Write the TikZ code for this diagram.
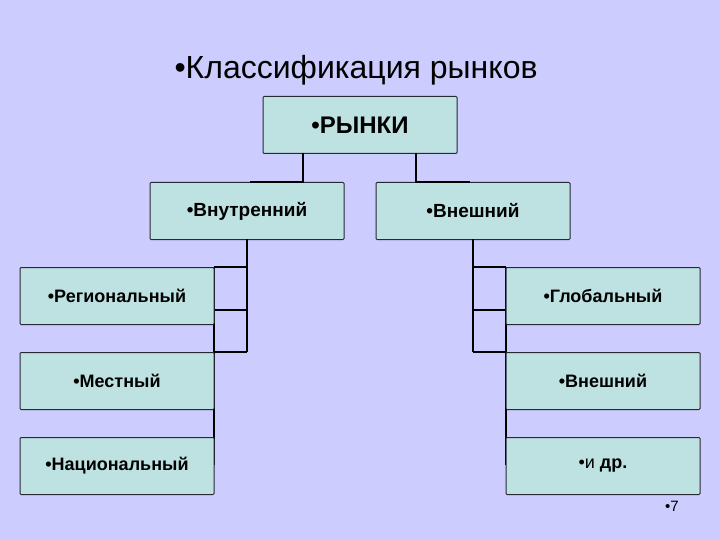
\documentclass[tikz,border=0pt]{standalone}
\usepackage{fontspec}
\setmainfont{Liberation Sans}
\definecolor{bg}{RGB}{204,204,255}
\definecolor{boxfill}{RGB}{190,226,226}
\definecolor{boxline}{RGB}{40,40,50}
\begin{document}
\begin{tikzpicture}[x=1pt,y=-1pt,
  box/.style={draw=boxline,line width=1pt,fill=boxfill,minimum width=194pt,minimum height=57pt,inner sep=0pt,rounded corners=1pt},
  leaf/.style={box,font=\fontsize{18}{21}\selectfont\bfseries},
  mid/.style={box,font=\fontsize{19}{22}\selectfont\bfseries},
  conn/.style={draw=black,line width=2pt}]
\fill[bg] (0,0) rectangle (720,540);
\useasboundingbox (0,0) rectangle (720,540);
\node[anchor=base] (title) at (356,79) {\fontsize{32}{35}\selectfont •Классификация рынков};
% nodes
\node[box,font=\fontsize{24}{28}\selectfont\bfseries] (root) at (360,125) {•РЫНКИ};
\node[mid] (vn) at (247,211) {•Внутренний};
\node[mid] (ex) at (473,211) {•Внешний};
\coordinate (rt1) at (303,153);
\coordinate (rt2) at (416,153);
% connectors from root
\draw[conn] (rt1) -- (303,182) -- (250,182);
\draw[conn] (rt2) -- (416,182) -- (470,182);
% left branch
\coordinate (L0) at (247,239);
\coordinate (L1) at (247,267);
\coordinate (L2) at (247,310);
\coordinate (L3) at (247,352);
\draw[conn] (L0) -- (L3);
\draw[conn] (L1) -- (214,267);
\draw[conn] (L2) -- (214,310);
\draw[conn] (L3) -- (214,352);
\draw[conn] (214,267) -- (214,465);
% right branch
\coordinate (R0) at (473,239);
\coordinate (R1) at (473,267);
\coordinate (R2) at (473,310);
\coordinate (R3) at (473,352);
\draw[conn] (R0) -- (R3);
\draw[conn] (R1) -- (506,267);
\draw[conn] (R2) -- (506,310);
\draw[conn] (R3) -- (506,352);
\draw[conn] (506,267) -- (506,465);
% leaf nodes
\node[leaf] (reg) at (117,296) {•Региональный};
\node[leaf] (mes) at (117,381) {•Местный};
\node[leaf] (nac) at (117,466) {•Национальный};
\node[leaf] (glo) at (603,296) {•Глобальный};
\node[leaf] (vne) at (603,381) {•Внешний};
\node[box,font=\fontsize{18}{21}\selectfont] (dr) at (603,466) {•и \textbf{др.}};
\node[anchor=base] (pg) at (672,511) {\fontsize{15}{17}\selectfont •7};
\end{tikzpicture}
\end{document}
